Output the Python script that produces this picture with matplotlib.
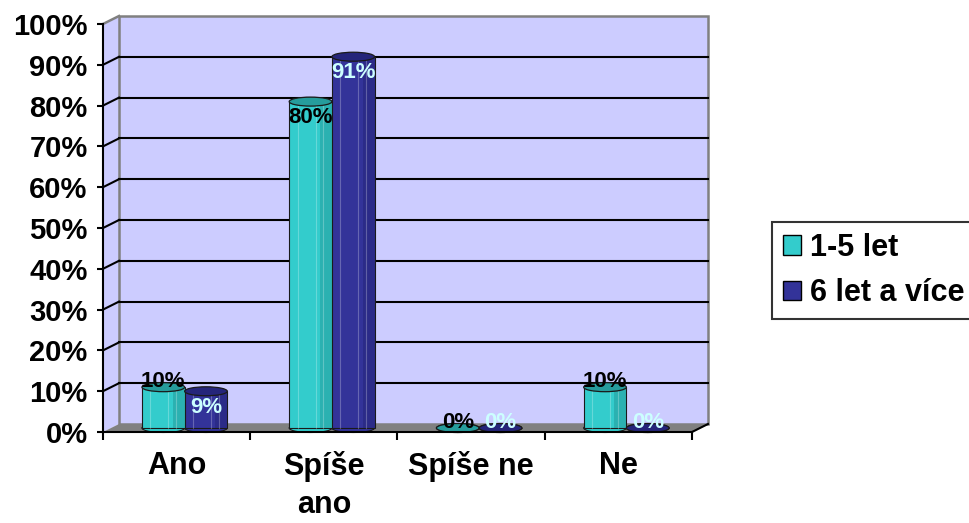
import numpy as np
import matplotlib
matplotlib.use('Agg')
import matplotlib.pyplot as plt
from matplotlib.patches import Rectangle, Ellipse, Polygon
from matplotlib.transforms import ScaledTranslation, IdentityTransform

# ---------------- DATA ----------------
categories = ['Ano', 'Spíše\nano', 'Spíše ne', 'Ne']
series_names = ['1-5 let', '6 let a více']
vals_short = [10, 80, 0, 10]     # 1-5 let
vals_long = [9, 91, 0, 0]        # 6 let a více
y_ticks = list(range(0, 101, 10))

# ---------------- STYLE ----------------
plt.rcParams['font.family'] = ['Liberation Sans', 'DejaVu Sans']
plt.rcParams['font.weight'] = 'bold'

CYAN = '#33CCCC'
CYAN_DARK = '#269C9C'
BLUE = '#333399'
BLUE_DARK = '#25257A'
WALL = '#CCCCFF'
FLOOR = '#808080'
DEPTH_X, DEPTH_Y = 16, 8   # px offset of back wall

fig = plt.figure(figsize=(9.7, 5.23), dpi=100)
ax = fig.add_axes([103 / 970, (523 - 432) / 523, (692 - 103) / 970, (432 - 24) / 523])
ax.set_xlim(0, len(categories))
ax.set_ylim(0, 100)
ax.set_facecolor('none')
for s in ['top', 'right']:
    ax.spines[s].set_visible(False)
ax.spines['left'].set_linewidth(1.5)
ax.spines['bottom'].set_linewidth(1.5)
ax.spines['left'].set_zorder(6)
ax.spines['bottom'].set_zorder(6)


def depth(d):
    # transform that pushes data d of the way to the back wall
    return ax.transData + ScaledTranslation(d * DEPTH_X / 100, d * DEPTH_Y / 100, fig.dpi_scale_trans)


def P(x, y, d):
    px, py = ax.transData.transform((x, y))
    return (px + d * DEPTH_X, py + d * DEPTH_Y)


def pix_line(p0, p1, **kw):
    ax.add_line(plt.Line2D([p0[0], p1[0]], [p0[1], p1[1]], transform=IdentityTransform(),
                           clip_on=False, **kw))


n = len(categories)

# side wall, back wall, floor
ax.add_patch(Polygon([P(0, 0, 0), P(0, 0, 1), P(0, 100, 1), P(0, 100, 0)], closed=True,
                     transform=IdentityTransform(), facecolor=WALL, edgecolor='none',
                     zorder=0, clip_on=False))
ax.add_patch(Rectangle((0, 0), n, 100, transform=depth(1), facecolor=WALL,
                       edgecolor='#808080', lw=1.8, zorder=0, clip_on=False))
ax.add_patch(Polygon([P(0, 0, 0), P(n, 0, 0), P(n, 0, 1), P(0, 0, 1)], closed=True,
                     transform=IdentityTransform(), facecolor=FLOOR, edgecolor='none',
                     zorder=1, clip_on=False))
pix_line(P(0, 100, 0), P(0, 100, 1), color='#808080', lw=1.8, zorder=1)
pix_line(P(n, 0, 0), P(n, 0, 1), color='black', lw=1.5, zorder=6)

# gridlines on back wall and side wall
for t in y_ticks[1:-1]:
    ax.plot([0, n], [t, t], color='black', lw=1.5, transform=depth(1), zorder=1, clip_on=False)
    pix_line(P(0, t, 0), P(0, t, 1), color='black', lw=1.5, zorder=1)

# cylinders
w = 0.29
xc = np.arange(n) + 0.5
bar_tr = depth(0.5)
ell_h = 2.2


def cylinders(xs, vals, col, dark, lab_col, is_short):
    bars = ax.bar(xs, vals, width=w, color=col, edgecolor='#1a1a1a', lw=0.8, zorder=3)
    for b, x, v in zip(bars, xs, vals):
        b.set_transform(bar_tr)
        b.set_clip_on(False)
        ax.add_patch(Ellipse((x, 0), w, ell_h, transform=bar_tr, facecolor=col,
                             edgecolor='#1a1a1a', lw=0.8, zorder=2.9, clip_on=False))
        if v > 0:
            ax.add_patch(Rectangle((x + w * 0.22, 0), w * 0.28, v, transform=bar_tr,
                                   facecolor=dark, edgecolor='none', alpha=0.55,
                                   zorder=3.1, clip_on=False))
            for fx in (-0.3, 0.12, 0.3):
                ax.plot([x + fx * w, x + fx * w], [0, v], color='white', alpha=0.25,
                        lw=0.8, transform=bar_tr, zorder=3.2, clip_on=False)
        ax.add_patch(Ellipse((x, v), w, ell_h, transform=bar_tr, facecolor=dark,
                             edgecolor='#1a1a1a', lw=0.9, zorder=3.3, clip_on=False))
        if is_short:
            dy = -16 if v >= 50 else 6
        else:
            dy = -16 if v >= 5 else 6
        ax.annotate(f'{v}%', (x, v), xycoords=bar_tr, xytext=(0, dy * 0.72),
                    textcoords='offset points', ha='center', va='center',
                    fontsize=16, fontweight='bold', color=lab_col, zorder=5)


cylinders(xc - w / 2, vals_short, CYAN, CYAN_DARK, 'black', True)
cylinders(xc + w / 2, vals_long, BLUE, BLUE_DARK, '#CCFFFF', False)

# axes ticks
ax.set_yticks(y_ticks)
ax.set_yticklabels([f'{t}%' for t in y_ticks], fontsize=21, fontweight='bold')
ax.tick_params(axis='y', direction='out', length=4, width=1.5, pad=7)
ax.set_xticks(np.arange(n + 1), minor=True)
ax.set_xticks(xc)
ax.set_xticklabels(categories, fontsize=22, fontweight='bold', linespacing=1.35, va='top')
ax.tick_params(axis='x', which='major', length=0, pad=14)
ax.tick_params(axis='x', which='minor', direction='out', length=6, width=1.5)

# legend
handles = [Rectangle((0, 0), 1, 1, facecolor=CYAN, edgecolor='black', lw=1),
           Rectangle((0, 0), 1, 1, facecolor=BLUE, edgecolor='black', lw=1)]
leg = fig.legend(handles, series_names, loc='upper left', bbox_to_anchor=(772 / 970, 1 - 222 / 523),
                 borderaxespad=0, fancybox=False, frameon=True, edgecolor='black',
                 prop={'size': 22, 'weight': 'bold'}, handlelength=0.6, handleheight=0.6,
                 handletextpad=0.3, labelspacing=0.5, borderpad=0.35)
leg.get_frame().set_linewidth(1.5)

fig.savefig('out.png', dpi=100)
